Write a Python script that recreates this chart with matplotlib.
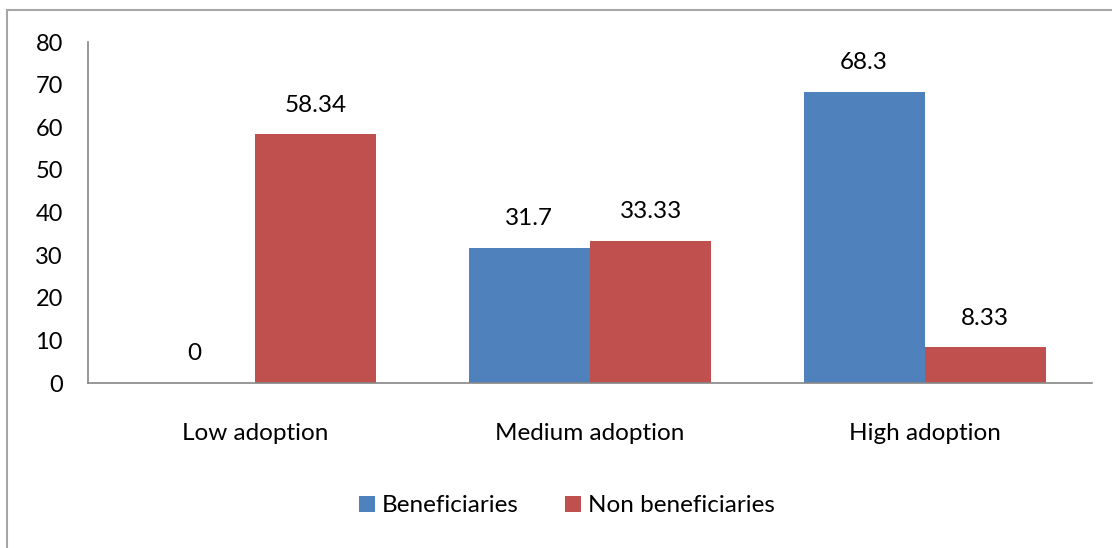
import matplotlib
matplotlib.use("Agg")
import matplotlib.pyplot as plt
from matplotlib.patches import Rectangle
import numpy as np

categories = ["Low adoption", "Medium adoption", "High adoption"]
beneficiaries = [0, 31.7, 68.3]
non_beneficiaries = [58.34, 33.33, 8.33]
ben_labels = ["0", "31.7", "68.3"]
non_labels = ["58.34", "33.33", "8.33"]
series_names = ["Beneficiaries", "Non beneficiaries"]
yticks = [0, 10, 20, 30, 40, 50, 60, 70, 80]

plt.rcParams['font.family'] = ['Lato', 'DejaVu Sans']
W, H = 1112, 548
fig = plt.figure(figsize=(W / 100, H / 100), dpi=100)

# outer border (top and left visible; right/bottom run off the image)
fig.patches.append(Rectangle((7 / W, -0.1), 1.2, (H - 10) / H + 0.1, transform=fig.transFigure,
                             fill=False, edgecolor="#A6A6A6", linewidth=1.5))

ax = fig.add_axes([88 / W, (H - 383) / H, (1092 - 88) / W, (383 - 42) / H])
x = np.arange(len(categories))
bw = 0.362
blue = "#4F81BD"
red = "#C0504D"
b1 = ax.bar(x - bw / 2, beneficiaries, bw, color=blue, label=series_names[0])
b2 = ax.bar(x + bw / 2, non_beneficiaries, bw, color=red, label=series_names[1])

fs = 17.5
for rect, lab in zip(b1, ben_labels):
    ax.annotate(lab, (rect.get_x() + rect.get_width() / 2, rect.get_height()),
                xytext=(0, 21), textcoords="offset points", ha="center", va="center", fontsize=fs)
for rect, lab in zip(b2, non_labels):
    ax.annotate(lab, (rect.get_x() + rect.get_width() / 2, rect.get_height()),
                xytext=(0, 21), textcoords="offset points", ha="center", va="center", fontsize=fs)

ax.set_xlim(-0.5, 2.5)
ax.set_ylim(0, 80)
ax.set_yticks(yticks)
ax.set_xticks(x)
ax.set_xticklabels(categories, fontsize=fs)
ax.tick_params(axis="y", length=0, pad=18, labelsize=17)
ax.tick_params(axis="x", length=0, pad=29)
for s in ["top", "right"]:
    ax.spines[s].set_visible(False)
for s in ["left", "bottom"]:
    ax.spines[s].set_color("#868686")
    ax.spines[s].set_linewidth(1.2)

fig.legend(handles=[b1, b2], labels=series_names, loc="center",
           bbox_to_anchor=(567 / W, 1 - 506 / H), ncol=2, frameon=False, fontsize=fs,
           handlelength=0.65, handleheight=0.65, handletextpad=0.3, columnspacing=1.9)

fig.savefig("out.png", dpi=100)
